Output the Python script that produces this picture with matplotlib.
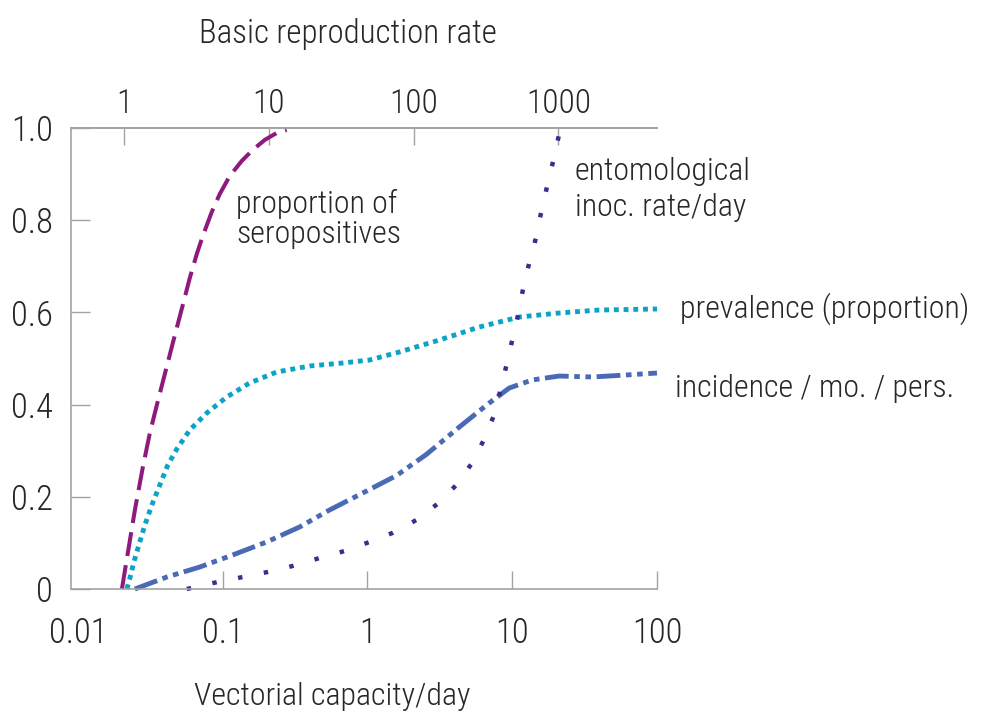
import matplotlib
matplotlib.use("Agg")
import matplotlib.pyplot as plt
from matplotlib import font_manager

# ---------------- data ----------------
x_major_ticks = [0.1, 1, 10, 100]
x_major_labels = ["0.1", "1", "10", "100"]
x_edge_tick = [0.01]
x_edge_label = ["0.01"]
y_ticks = [0, 0.2, 0.4, 0.6, 0.8, 1.0]
y_ticklabels = ["0", "0.2", "0.4", "0.6", "0.8", "1.0"]
r0_ticks = [1, 10, 100, 1000]
r0_ticklabels = ["1", "10", "100", "1000"]
R0_PER_VC = 48.0  # basic reproduction rate per unit vectorial capacity

sero_vc = [0.02011, 0.02472, 0.02807, 0.03137, 0.03506, 0.03981, 0.04519, 0.05297,
           0.05921, 0.06617, 0.07278, 0.08397, 0.09535, 0.1118, 0.1352, 0.1610,
           0.1948, 0.2357, 0.2763]
sero_y = [0.0, 0.1714, 0.2646, 0.3384, 0.3991, 0.4664, 0.5336, 0.6161,
          0.6746, 0.7267, 0.7657, 0.8178, 0.8568, 0.8959, 0.9284, 0.9523,
          0.9740, 0.9892, 0.9957]

prev_vc = [0.02178, 0.02284, 0.02433, 0.02635, 0.02898, 0.03239, 0.03676, 0.04175,
           0.04818, 0.05921, 0.07757, 0.1066, 0.1535, 0.2357, 0.3981, 0.6724,
           1.032, 1.662, 3.137, 5.923, 11.18, 21.10, 39.81, 100.0]
prev_y = [0.0, 0.0239, 0.0586, 0.0954, 0.1388, 0.1822, 0.2256, 0.2690,
          0.3037, 0.3449, 0.3818, 0.4165, 0.4469, 0.4707, 0.4837, 0.4902,
          0.4967, 0.5141, 0.5401, 0.5683, 0.5900, 0.5987, 0.6052, 0.6074]

inc_vc = [0.02472, 0.04110, 0.06941, 0.1172, 0.2011, 0.3396, 0.5468, 0.9237,
          1.585, 2.553, 4.311, 6.939, 9.535, 13.74, 21.10, 35.62, 61.12, 100.0]
inc_y = [0.0, 0.0260, 0.0477, 0.0738, 0.1020, 0.1345, 0.1714, 0.2080,
         0.2460, 0.2920, 0.3514, 0.4035, 0.4360, 0.4534, 0.4620, 0.4599, 0.4642, 0.4685]

eir_vc = [0.05645, 0.09237, 0.1374, 0.2043, 0.3039, 0.4667, 0.6944, 1.032,
          1.487, 2.177, 3.040, 4.111, 5.215, 6.310, 7.396, 8.265, 9.092, 10.0,
          11.00, 11.91, 13.10, 14.64, 15.85, 17.43, 19.18, 21.10]
eir_y = [0.0, 0.0152, 0.0260, 0.0369, 0.0499, 0.0672, 0.0824, 0.1020,
         0.1215, 0.1497, 0.1844, 0.2256, 0.2711, 0.3210, 0.3731, 0.4295, 0.4837, 0.5401,
         0.5965, 0.6529, 0.7072, 0.7636, 0.8178, 0.8742, 0.9284, 0.9870]

# ---------------- font ----------------
names = {f.name for f in font_manager.fontManager.ttflist}
FONT = "Liberation Sans"
SCALE = 0.85
for cand in ["Liberation Sans Narrow", "Roboto Condensed", "Open Sans Condensed"]:
    if cand in names:
        FONT = cand
        SCALE = 1.0
        break
plt.rcParams["font.family"] = [FONT, "DejaVu Sans"]
plt.rcParams["font.weight"] = "light"

TXT = "#2a2627"
GRAY = "#a3a3a3"
C_SERO = "#8e1a7d"
C_PREV = "#0ba3c7"
C_INC = "#4a6ab6"
C_EIR = "#3e2b8c"

W, H = 986, 711
fig = plt.figure(figsize=(W / 100, H / 100), dpi=100)
L, R, B, T = 71, 657, 589, 128
ax = fig.add_axes([L / W, 1 - B / H, (R - L) / W, (B - T) / H])

ax.set_xscale("log")
ax.set_xlim(10 ** (-2 - 7 / 145), 100)
ax.set_ylim(0, 1.0)

ax.plot(sero_vc, sero_y, color=C_SERO, lw=2.9, linestyle=(0, (6, 2.3)),
        dash_capstyle="butt", clip_on=False)
ax.plot(prev_vc, prev_y, color=C_PREV, lw=3.5, linestyle=(0, (1, 1)),
        dash_capstyle="butt", clip_on=False)
ax.plot(inc_vc, inc_y, color=C_INC, lw=3.5,
        linestyle=(0, (4.9, 1.15, 1.15, 1.15, 1.15, 1.15)),
        dash_capstyle="butt", clip_on=False)
ax.plot(eir_vc, eir_y, color=C_EIR, lw=3.2, linestyle=(0, (1, 4.9)),
        dash_capstyle="butt", clip_on=False)

fs_tick = 25 * SCALE
fs_lab = 23 * SCALE

for s in ["left", "top", "bottom"]:
    ax.spines[s].set_color(GRAY)
    ax.spines[s].set_linewidth(1.2)
ax.spines["right"].set_visible(False)

ax.set_xticks(x_major_ticks)
ax.set_xticklabels(x_major_labels)
ax.set_xticks(x_edge_tick, minor=True)
ax.set_xticklabels(x_edge_label, minor=True)
ax.set_yticks(y_ticks)
ax.set_yticklabels(y_ticklabels)
ax.tick_params(axis="x", which="major", direction="in", length=13, width=1,
               color=GRAY, labelsize=fs_tick, labelcolor=TXT, pad=20)
ax.tick_params(axis="x", which="minor", direction="in", length=0,
               labelsize=fs_tick, labelcolor=TXT, pad=20)
ax.tick_params(axis="y", direction="in", length=13.5, width=1, color=GRAY,
               labelsize=fs_tick, labelcolor=TXT, pad=13)

sec = ax.secondary_xaxis("top", functions=(lambda v: v * R0_PER_VC,
                                           lambda r: r / R0_PER_VC))
sec.set_xticks(r0_ticks)
sec.set_xticklabels(r0_ticklabels)
sec.xaxis.set_minor_locator(matplotlib.ticker.NullLocator())
sec.tick_params(axis="x", direction="in", length=12, width=1, color=GRAY,
                labelsize=fs_tick * 0.96, labelcolor=TXT, pad=6)
sec.spines["top"].set_color(GRAY)
sec.spines["top"].set_linewidth(1.2)

fig.text(348 / W, 1 - 43 / H, "Basic reproduction rate", ha="center",
         va="baseline", fontsize=fs_tick * 0.95, color=TXT)
fig.text(332 / W, 1 - 705 / H, "Vectorial capacity/day", ha="center",
         va="baseline", fontsize=fs_tick * 0.92, color=TXT)

labels = [
    (236, 213, "proportion of"),
    (236, 243, "seropositives"),
    (575, 180, "entomological"),
    (575, 216, "inoc. rate/day"),
    (680, 318, "prevalence (proportion)"),
    (675, 397, "incidence / mo. / pers."),
]
for px, py, s in labels:
    fig.text(px / W, 1 - py / H, s, ha="left", va="baseline",
             fontsize=fs_lab, color=TXT)

fig.savefig("out.png", dpi=100)
